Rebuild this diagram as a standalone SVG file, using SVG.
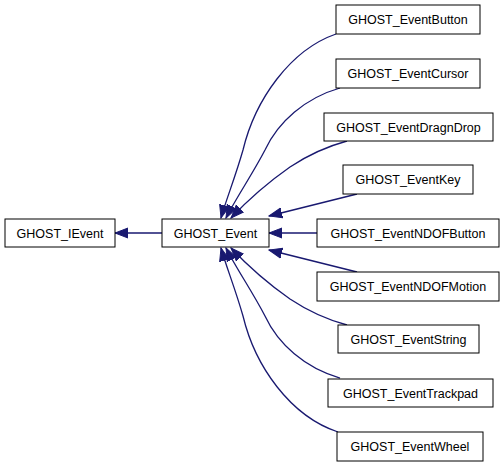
<svg xmlns="http://www.w3.org/2000/svg" width="504" height="467" viewBox="0 0 504 467">
<style>
.n rect{fill:#fff;stroke:#000;stroke-width:1}
.n text{font-family:"Liberation Sans",Arial,sans-serif;font-size:12.5px;text-anchor:middle;fill:#000}
.e path{fill:none;stroke:#191970;stroke-width:1.3;marker-end:url(#ah)}
</style>
<defs>
<marker id="ah" markerUnits="userSpaceOnUse" markerWidth="14" markerHeight="12" refX="13" refY="6" orient="auto">
<path d="M0,1 L13,6 L0,11 z" fill="#191970" stroke="#191970" stroke-width="1"/>
</marker>
</defs>
<rect width="504" height="467" fill="#fff"/>
<g id="edges" class="e">
<path d="M162,233 L115,233"/>
<path d="M336,34 C290,50 255,100 243,150 C235,178 226,200 221,218"/>
<path d="M340,88 C305,98 278,122 265,150 C252,175 236,198 226,218"/>
<path d="M347,141 C325,147 305,157 290,167 C270,181 247,201 231,218"/>
<path d="M357,194 L269,216"/>
<path d="M317,233 L269,233"/>
<path d="M357,272 L269,250"/>
<path d="M347,325 C325,319 305,309 290,299 C270,285 247,265 231,248"/>
<path d="M340,378 C305,368 278,344 265,316 C252,291 236,268 226,248"/>
<path d="M338,432 C290,416 255,366 243,316 C235,288 226,266 221,248"/>
</g>
<g id="GHOST_IEvent" class="n"><rect x="5" y="219" width="110" height="28"/><text x="60" y="237.5">GHOST_IEvent</text></g>
<g id="GHOST_Event" class="n"><rect x="162" y="219" width="107" height="28"/><text x="215.5" y="237.5">GHOST_Event</text></g>
<g id="GHOST_EventButton" class="n"><rect x="336" y="5" width="144" height="29"/><text x="408" y="24">GHOST_EventButton</text></g>
<g id="GHOST_EventCursor" class="n"><rect x="336" y="59" width="144" height="29"/><text x="408" y="78">GHOST_EventCursor</text></g>
<g id="GHOST_EventDragnDrop" class="n"><rect x="324" y="113" width="169" height="28"/><text x="408.5" y="131.5">GHOST_EventDragnDrop</text></g>
<g id="GHOST_EventKey" class="n"><rect x="343" y="165" width="130" height="29"/><text x="408" y="184">GHOST_EventKey</text></g>
<g id="GHOST_EventNDOFButton" class="n"><rect x="317" y="219" width="182" height="28"/><text x="408" y="237.5">GHOST_EventNDOFButton</text></g>
<g id="GHOST_EventNDOFMotion" class="n"><rect x="317" y="272" width="182" height="29"/><text x="408" y="291">GHOST_EventNDOFMotion</text></g>
<g id="GHOST_EventString" class="n"><rect x="338" y="325" width="141" height="28"/><text x="408.5" y="343.5">GHOST_EventString</text></g>
<g id="GHOST_EventTrackpad" class="n"><rect x="328" y="379" width="165" height="28"/><text x="410.5" y="397.5">GHOST_EventTrackpad</text></g>
<g id="GHOST_EventWheel" class="n"><rect x="337" y="432" width="146" height="29"/><text x="410" y="451">GHOST_EventWheel</text></g>
</svg>
